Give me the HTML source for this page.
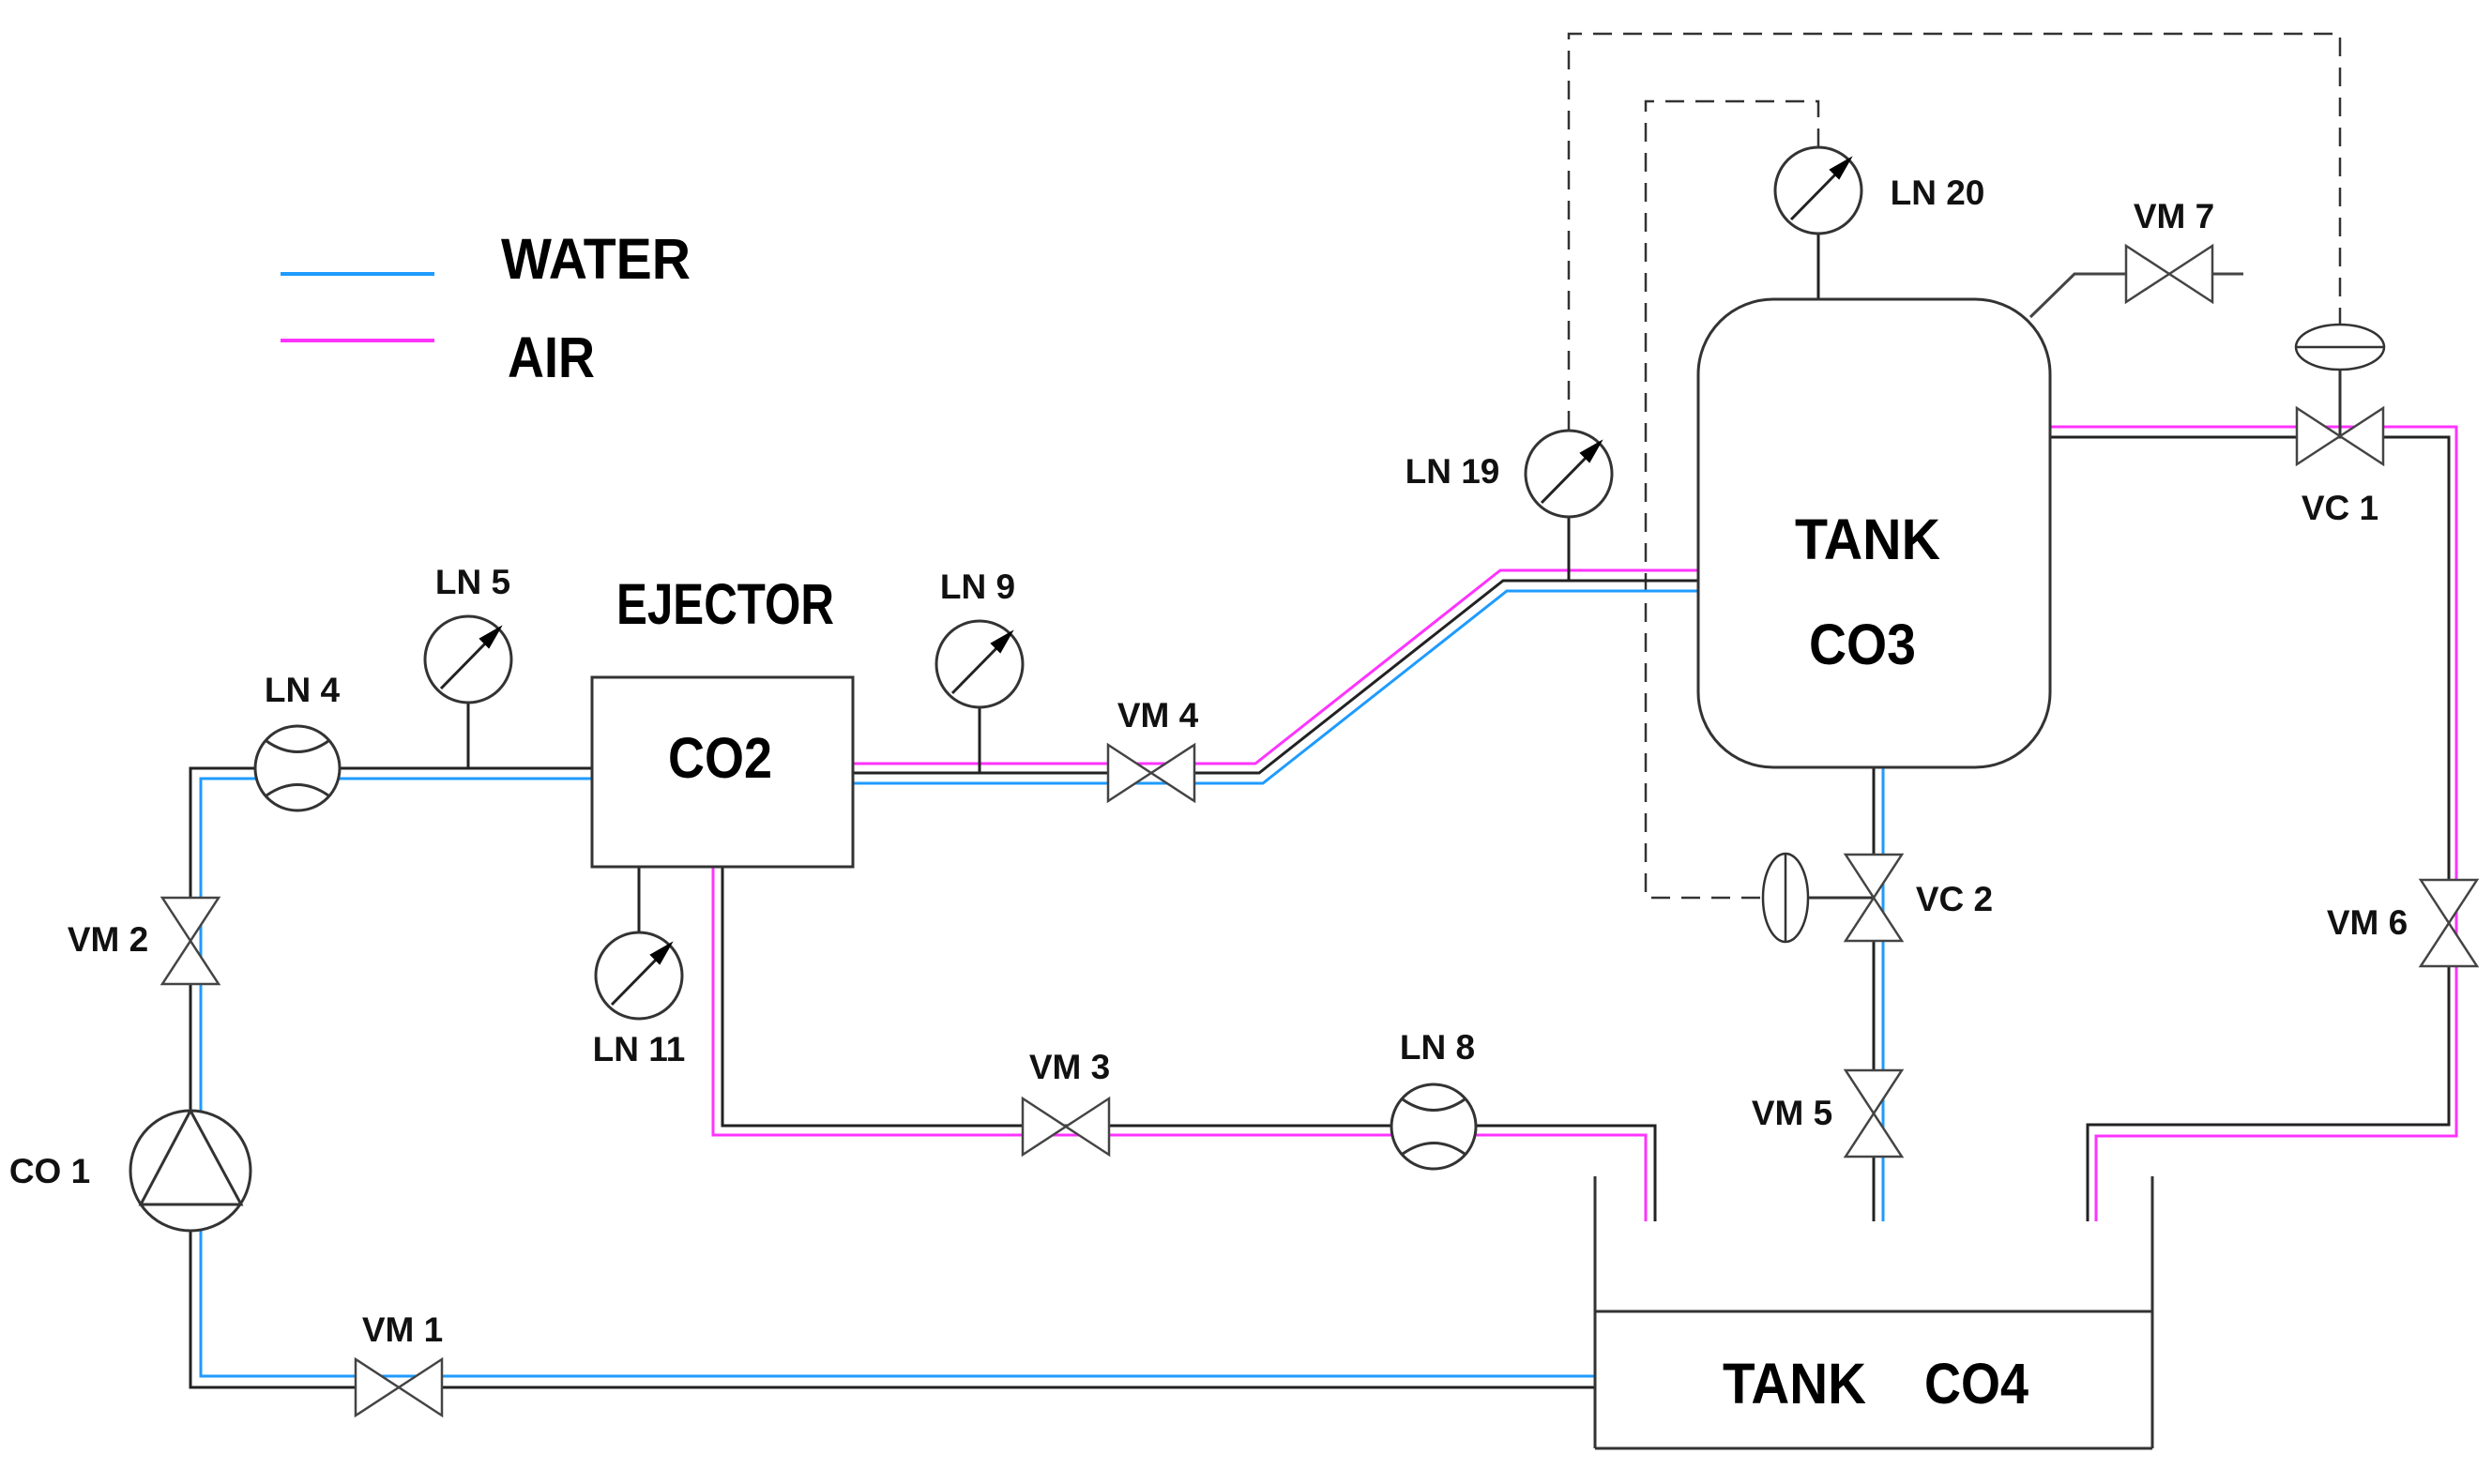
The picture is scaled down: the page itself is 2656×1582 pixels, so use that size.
<!DOCTYPE html>
<html><head><meta charset="utf-8"><style>
html,body{margin:0;padding:0;background:#fff;}
svg{display:block;}
text{font-family:"Liberation Sans",Arial,sans-serif;font-weight:bold;fill:#000;}
.l{font-size:37px;text-anchor:middle;fill:#111;}
.b{font-size:61px;}
</style></head><body>
<svg width="2656" height="1582" viewBox="0 0 2656 1582" xmlns="http://www.w3.org/2000/svg">
<defs>
<g id="gauge">
<circle cx="0" cy="0" r="46" fill="#fff" stroke="#333" stroke-width="3"/>
<line x1="-29" y1="31" x2="24" y2="-23" stroke="#222" stroke-width="3"/>
<polygon points="34,-34 13,-22 22,-13" fill="#000" stroke="#000" stroke-width="2"/>
</g>
<g id="flow">
<circle cx="0" cy="0" r="45" fill="#fff" stroke="#333" stroke-width="3"/>
<path d="M-33,-29 Q0,-6 33,-29 M-33,29 Q0,6 33,29" fill="none" stroke="#333" stroke-width="3"/>
</g>
<path id="vh" d="M-46,-30 L46,30 L46,-30 L-46,30 Z" fill="#fff" stroke="#444" stroke-width="2.5"/>
<path id="vv" d="M-30,-46 L30,46 L-30,46 L30,-46 Z" fill="#fff" stroke="#444" stroke-width="2.5"/>
</defs>

<!-- legend -->
<line x1="299" y1="292" x2="463" y2="292" stroke="#1e9bff" stroke-width="4"/>
<line x1="299" y1="363" x2="463" y2="363" stroke="#ff33ff" stroke-width="4"/>
<text class="b" x="534" y="297" textLength="202" lengthAdjust="spacingAndGlyphs">WATER</text>
<text class="b" x="541" y="402" textLength="93" lengthAdjust="spacingAndGlyphs">AIR</text>

<!-- dashed control lines -->
<g fill="none" stroke="#333" stroke-width="2.5" stroke-dasharray="20,12">
<polyline points="1672,458 1672,36 2494,36 2494,346"/>
<polyline points="1938,157 1938,108 1754,108 1754,957 1879,957"/>
</g>

<!-- pipes -->
<g fill="none" stroke-width="3">
<polyline stroke="#1e9bff" points="1700,1467 214,1467 214,830 631,830"/>
<polyline stroke="#222" points="1700,1479 203,1479 203,819 631,819"/>
<polyline stroke="#ff33ff" points="909,814 1338,814 1599,608 1810,608"/>
<polyline stroke="#222" points="909,824 1342,824 1602,619 1810,619"/>
<polyline stroke="#1e9bff" points="909,835 1346,835 1606,630 1810,630"/>
<polyline stroke="#222" points="770,924 770,1200 1764,1200 1764,1302"/>
<polyline stroke="#ff33ff" points="760,924 760,1210 1754,1210 1754,1302"/>
<polyline stroke="#222" points="1997,818 1997,1302"/>
<polyline stroke="#1e9bff" points="2007,818 2007,1302"/>
<polyline stroke="#ff33ff" points="2185,455 2618,455 2618,1211 2234,1211 2234,1302"/>
<polyline stroke="#222" points="2185,466 2610,466 2610,1199 2225,1199 2225,1302"/>
<!-- stems -->
<line stroke="#222" x1="499" y1="749" x2="499" y2="819"/>
<line stroke="#222" x1="1044" y1="754" x2="1044" y2="824"/>
<line stroke="#222" x1="681" y1="924" x2="681" y2="994"/>
<line stroke="#222" x1="1672" y1="551" x2="1672" y2="619"/>
<line stroke="#222" x1="1938" y1="249" x2="1938" y2="319"/>
<polyline stroke="#444" points="2164,338 2211,292 2265,292"/>
<line stroke="#444" x1="2359" y1="292" x2="2391" y2="292"/>
<line stroke="#333" x1="2494" y1="394" x2="2494" y2="465"/>
<line stroke="#333" x1="1927" y1="957" x2="1997" y2="957"/>
</g>

<!-- ejector -->
<rect x="631" y="722" width="278" height="202" fill="#fff" stroke="#333" stroke-width="3"/>
<text class="b" x="712" y="829" textLength="111" lengthAdjust="spacingAndGlyphs">CO2</text>
<text class="b" x="657" y="665" textLength="232" lengthAdjust="spacingAndGlyphs">EJECTOR</text>

<!-- tank CO3 -->
<rect x="1810" y="319" width="375" height="499" rx="80" ry="80" fill="none" stroke="#333" stroke-width="3"/>
<text class="b" x="1913" y="596" textLength="155" lengthAdjust="spacingAndGlyphs">TANK</text>
<text class="b" x="1928" y="708" textLength="114" lengthAdjust="spacingAndGlyphs">CO3</text>

<!-- tank CO4 -->
<g stroke="#333" stroke-width="3" fill="none">
<line x1="1700" y1="1254" x2="1700" y2="1544"/>
<line x1="2294" y1="1254" x2="2294" y2="1544"/>
<line x1="1700" y1="1398" x2="2294" y2="1398"/>
<line x1="1700" y1="1544" x2="2294" y2="1544"/>
</g>
<text class="b" x="1836" y="1496" textLength="153" lengthAdjust="spacingAndGlyphs">TANK</text>
<text class="b" x="2051" y="1496" textLength="111" lengthAdjust="spacingAndGlyphs">CO4</text>

<!-- pump -->
<circle cx="203" cy="1248" r="64" fill="#fff" stroke="#333" stroke-width="3"/>
<polygon points="203,1184 150,1284 257,1284" fill="none" stroke="#333" stroke-width="3"/>

<!-- gauges -->
<use href="#gauge" x="499" y="703"/>
<use href="#gauge" x="1044" y="708"/>
<use href="#gauge" x="681" y="1040"/>
<use href="#gauge" x="1672" y="505"/>
<use href="#gauge" x="1938" y="203"/>
<use href="#flow" x="317" y="819"/>
<use href="#flow" x="1528" y="1201"/>

<!-- valves -->
<use href="#vh" x="425" y="1479"/>
<use href="#vv" x="203" y="1003"/>
<use href="#vh" x="1136" y="1201"/>
<use href="#vh" x="1227" y="824"/>
<use href="#vv" x="1997" y="1187"/>
<use href="#vv" x="2610" y="984"/>
<use href="#vh" x="2312" y="292"/>
<use href="#vh" x="2494" y="465"/>
<use href="#vv" x="1997" y="957"/>

<!-- actuators -->
<ellipse cx="2494" cy="370" rx="47" ry="24" fill="#fff" stroke="#333" stroke-width="2.5"/>
<line x1="2447" y1="370" x2="2541" y2="370" stroke="#333" stroke-width="2.5"/>
<ellipse cx="1903" cy="957" rx="24" ry="47" fill="#fff" stroke="#333" stroke-width="2.5"/>
<line x1="1903" y1="910" x2="1903" y2="1004" stroke="#333" stroke-width="2.5"/>

<!-- labels -->
<text class="l" x="504" y="633">LN 5</text>
<text class="l" x="322" y="748">LN 4</text>
<text class="l" x="115" y="1014">VM 2</text>
<text class="l" x="53" y="1261">CO 1</text>
<text class="l" x="429" y="1430">VM 1</text>
<text class="l" x="681" y="1131">LN 11</text>
<text class="l" x="1042" y="638">LN 9</text>
<text class="l" x="1234" y="775">VM 4</text>
<text class="l" x="1140" y="1150">VM 3</text>
<text class="l" x="1532" y="1129">LN 8</text>
<text class="l" x="1548" y="515">LN 19</text>
<text class="l" x="2065" y="218">LN 20</text>
<text class="l" x="2317" y="243">VM 7</text>
<text class="l" x="2494" y="554">VC 1</text>
<text class="l" x="2083" y="971">VC 2</text>
<text class="l" x="1910" y="1199">VM 5</text>
<text class="l" x="2523" y="996">VM 6</text>
</svg>
</body></html>
